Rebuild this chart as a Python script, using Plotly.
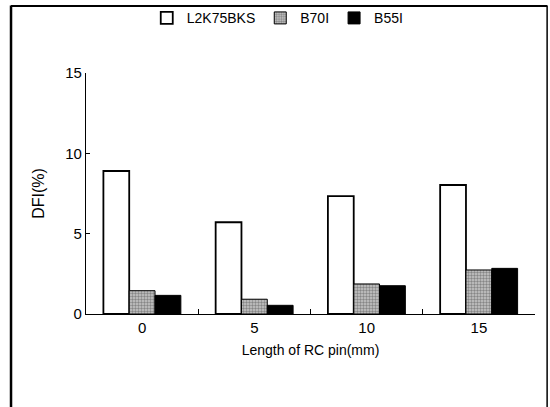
import plotly.graph_objects as go

categories = ["0", "5", "10", "15"]
series_names = ["L2K75BKS", "B70I", "B55I"]
l2k75bks = [8.9, 5.71, 7.34, 8.03]
b70i = [1.45, 0.92, 1.87, 2.74]
b55i = [1.16, 0.54, 1.76, 2.84]
y_ticks = [0, 5, 10, 15]

FONT = "Liberation Sans Narrow, Liberation Sans, Arial"

fig = go.Figure()
fig.add_trace(go.Bar(
    x=categories, y=l2k75bks, name=series_names[0],
    marker=dict(color="white", line=dict(color="black", width=1.8)),
))
fig.add_trace(go.Bar(
    x=categories, y=b70i, name=series_names[1],
    marker=dict(color="#b0b0b0", line=dict(color="black", width=1),
                pattern=dict(shape=".", fgcolor="#444444", bgcolor="#c8c8c8",
                             size=3, solidity=0.5)),
))
fig.add_trace(go.Bar(
    x=categories, y=b55i, name=series_names[2],
    marker=dict(color="black", line=dict(color="black", width=1)),
))

fig.update_layout(
    width=550, height=407,
    margin=dict(l=86, r=15, t=73, b=93, autoexpand=False),
    paper_bgcolor="white", plot_bgcolor="white",
    barmode="group", bargap=0.31, bargroupgap=0,
    font=dict(family=FONT, color="black", size=15),
    showlegend=True,
    legend=dict(orientation="h", xref="container", x=0.505, xanchor="center",
                yref="container", y=0.955, yanchor="middle",
                font=dict(size=14, family=FONT),
                itemwidth=30, tracegroupgap=0, bgcolor="rgba(0,0,0,0)"),
    xaxis=dict(
        showline=True, linecolor="black", linewidth=1.2,
        ticks="inside", ticklen=5, tickcolor="black", tickson="boundaries",
        showgrid=False, tickfont=dict(size=15),
        title=dict(text="Length of RC pin(mm)", font=dict(size=14), standoff=10),
    ),
    yaxis=dict(
        range=[0, 15], tickvals=y_ticks, showline=True, linecolor="black",
        linewidth=1.2, ticks="inside", ticklen=4, tickcolor="black",
        showgrid=False, zeroline=False, tickfont=dict(size=15),
        title=dict(text="DFI(%)", font=dict(size=16), standoff=16),
    ),
    shapes=[
        dict(type="line", xref="paper", yref="paper",
             x0=-0.167, x1=-0.167, y0=-0.45, y1=1.28, line=dict(color="black", width=2.5)),
        dict(type="line", xref="paper", yref="paper",
             x0=-0.167, x1=1.027, y0=1.278, y1=1.278, line=dict(color="black", width=2)),
        dict(type="line", xref="paper", yref="paper",
             x0=1.027, x1=1.027, y0=-0.45, y1=1.28, line=dict(color="black", width=1.5)),
    ],
)

fig.write_html("out.html")
